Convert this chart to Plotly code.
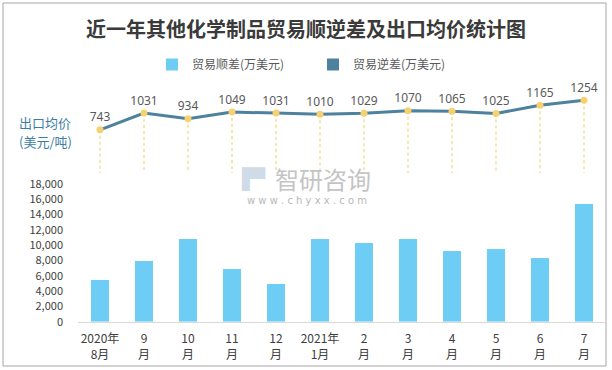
import plotly.graph_objects as go

categories = ["2020年<br>8月", "9<br>月", "10<br>月", "11<br>月", "12<br>月", "2021年<br>1月",
              "2<br>月", "3<br>月", "4<br>月", "5<br>月", "6<br>月", "7<br>月"]
surplus = [5450, 7930, 10810, 6890, 4930, 10810, 10290, 10810, 9240, 9500, 8330, 15380]
deficit = [0, 0, 0, 0, 0, 0, 0, 0, 0, 0, 0, 0]
price = [743, 1031, 934, 1049, 1031, 1010, 1029, 1070, 1065, 1025, 1165, 1254]

W, H = 612, 370
L, R, T, B = 78, 6, 0, 0
PW = W - L - R


def px_x(x):
    return (x - L) / PW


def px_y(y):
    return 1 - y / H


fig = go.Figure()

fig.add_trace(go.Bar(
    x=categories, y=surplus, name="贸易顺差(万美元)",
    marker=dict(color="#6dcdf5", line=dict(width=0)),
    xaxis="x", yaxis="y",
))
fig.add_trace(go.Bar(
    x=categories, y=deficit, name="贸易逆差(万美元)",
    marker=dict(color="#4e819e", line=dict(width=0)),
    xaxis="x", yaxis="y",
))

# dotted drop lines from each price point to zero of the price axis
drop_x, drop_y = [], []
for c, v in zip(categories, price):
    drop_x += [c, c, None]
    drop_y += [v, 0, None]
fig.add_trace(go.Scatter(
    x=drop_x, y=drop_y, mode="lines",
    line=dict(color="#f7d47a", width=1.2, dash="dot"),
    showlegend=False, hoverinfo="skip", xaxis="x", yaxis="y2",
))

fig.add_trace(go.Scatter(
    x=categories, y=price, mode="lines+markers+text",
    text=[str(v) for v in price], textposition="top center",
    textfont=dict(size=12, color="#595959", family="Noto Sans, DejaVu Sans"),
    line=dict(color="#4e819e", width=3),
    marker=dict(color="#f7d170", size=7),
    showlegend=False, xaxis="x", yaxis="y2", cliponaxis=False,
))

fig.update_layout(
    width=W, height=H,
    margin=dict(l=L, r=R, t=T, b=B, autoexpand=False),
    paper_bgcolor="white", plot_bgcolor="rgba(0,0,0,0)",
    barmode="overlay", bargap=0.59,
    font=dict(family="Noto Sans CJK SC, Noto Sans, sans-serif", color="#404040"),
    title=dict(
        text="<b>近一年其他化学制品贸易顺逆差及出口均价统计图</b>",
        x=0.5, xref="container", xanchor="center",
        y=px_y(30), yref="container", yanchor="middle",
        font=dict(size=20, color="#3a3a3a", family="Noto Sans CJK SC"),
    ),
    legend=dict(
        orientation="h", x=px_x(152), xanchor="left", y=px_y(50), yanchor="top",
        font=dict(size=12, color="#595959"),
        entrywidth=116, entrywidthmode="pixels",
        itemwidth=30, bgcolor="rgba(0,0,0,0)",
    ),
    xaxis=dict(
        type="category", anchor="y", automargin=False,
        showgrid=False, showline=True, linecolor="#d9d9d9", linewidth=1,
        ticks="", tickfont=dict(size=12, color="#404040"),
        ticklabelstandoff=6,
        range=[-0.5, 11.5],
    ),
    yaxis=dict(
        domain=[px_y(321.7), px_y(184)], range=[0, 18000], automargin=False,
        tickvals=list(range(0, 18001, 2000)), tickformat=",",
        showgrid=False, zeroline=False, showline=False,
        tickfont=dict(size=11, color="#404040"),
        ticklabelstandoff=14,
    ),
    yaxis2=dict(
        domain=[px_y(173), px_y(70)], range=[0, 1773], automargin=False,
        anchor="x", showgrid=False, zeroline=False, showline=False,
        showticklabels=False,
    ),
    showlegend=True,
)

# axis title for price
fig.add_annotation(
    text="出口均价", xref="paper", yref="paper",
    x=px_x(17), y=px_y(123), xanchor="left", yanchor="middle",
    showarrow=False, align="left",
    font=dict(size=13, color="#3c7ea3"),
)
fig.add_annotation(
    text="(美元/吨)", xref="paper", yref="paper",
    x=px_x(17), y=px_y(141), xanchor="left", yanchor="middle",
    showarrow=False, align="left",
    font=dict(size=13, color="#3c7ea3"),
)

# watermark
fig.add_annotation(
    text="智研咨询", xref="paper", yref="paper",
    x=px_x(323), y=px_y(178), xanchor="center", yanchor="middle",
    showarrow=False, font=dict(size=24, color="#c4c4c4"),
)
fig.add_annotation(
    text="w w w . c h y x x . c o m", xref="paper", yref="paper",
    x=px_x(307), y=px_y(200), xanchor="center", yanchor="middle",
    showarrow=False, font=dict(size=10, color="#b8b8b8", family="DejaVu Sans"),
)
fig.add_annotation(
    text="▐▀", xref="paper", yref="paper",
    x=px_x(249), y=px_y(179), xanchor="center", yanchor="middle",
    showarrow=False, font=dict(size=20, color="#cfdbe6", family="DejaVu Sans"),
)

# outer frame
fig.add_shape(
    type="rect", xref="paper", yref="paper",
    x0=px_x(3), x1=px_x(606), y0=px_y(366), y1=px_y(3),
    line=dict(color="#a6a6a6", width=1), fillcolor="rgba(0,0,0,0)", layer="below",
)

fig.write_html(
    "out.html",
    config={"displayModeBar": False},
    post_script="document.body.style.margin='0';document.body.style.padding='0';",
)
